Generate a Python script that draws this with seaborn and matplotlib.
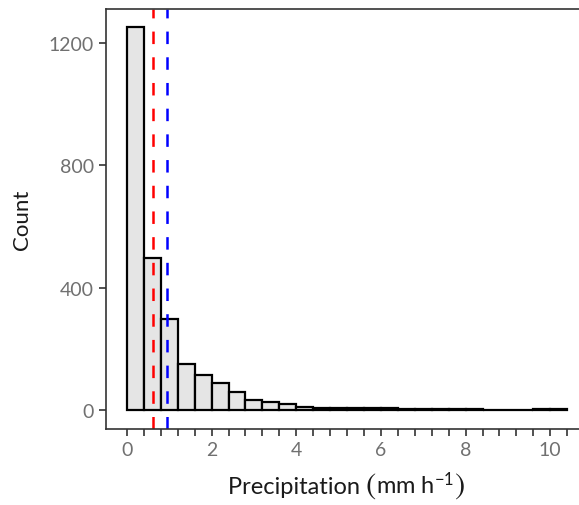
import numpy as np
import pandas as pd
import matplotlib
matplotlib.use("Agg")
import matplotlib.pyplot as plt
from matplotlib.offsetbox import TextArea, HPacker, AnchoredOffsetbox
import seaborn as sb

# histogram counts per 0.4 mm/h bin, starting at 0
bin_width = 0.4
counts = [1251, 497, 296, 150, 115, 88, 58, 34, 25, 20,
          9, 6, 8, 8, 7, 7, 4, 2, 5, 5,
          5, 1, 1, 1, 4, 4]
# reference lines
median_val = 0.62
mean_val = 0.95

y_ticks = [0, 400, 800, 1200]
x_labels = [0, 2, 4, 6, 8, 10]

sb.set_style("white")
plt.rcParams['font.family'] = ['Lato', 'DejaVu Sans']
plt.rcParams['mathtext.fontset'] = 'custom'
plt.rcParams['mathtext.rm'] = 'Lato'
plt.rcParams['mathtext.it'] = 'Lato:italic'
plt.rcParams['lines.scale_dashes'] = False

# build bin edges / centres from the bin width
edges = np.arange(len(counts) + 1) * bin_width
df = pd.DataFrame({"precip": edges[:-1] + bin_width / 2, "n": counts})

fig = plt.figure(figsize=(5.79, 5.06), dpi=100)
ax = fig.add_axes([106 / 579, 1 - 430 / 506, 1 - 106 / 579, 420 / 506])

sb.histplot(data=df, x="precip", weights="n", bins=list(edges), color="#e5e5e5", alpha=1,
            edgecolor="black", linewidth=1.6, ax=ax)

ax.axvline(median_val, color="red", linewidth=1.8, dashes=(9, 9.5))
ax.axvline(mean_val, color="blue", linewidth=1.8, dashes=(9, 9.5))

ax.set_xlim(-0.496, 10.68)
ax.set_ylim(-62, 1311)

ax.set_yticks(y_ticks)
ax.set_xticks(edges)
ax.set_xticklabels([str(int(round(e))) if any(abs(e - v) < 1e-6 for v in x_labels) else "" for e in edges])

ax.tick_params(axis="both", which="major", length=5, width=1.2, color="#333333",
               labelsize=14, labelcolor="#707070", direction="out", bottom=True, left=True)
ax.set_ylabel("Count", fontsize=16, color="#1a1a1a", labelpad=12)
ax.set_xlabel("")

# x label with tall parentheses, packed piece by piece on a common baseline
tp = dict(size=17, color="#1a1a1a")
pp = dict(size=22, color="#1a1a1a", family="STIXGeneral")
label_box = HPacker(children=[TextArea("Precipitation ", textprops=tp),
                              TextArea("(", textprops=pp),
                              TextArea(r"mm h$^{-1}$", textprops=tp),
                              TextArea(")", textprops=pp)],
                    align="baseline", pad=0, sep=0)
anchored = AnchoredOffsetbox(loc="upper center", child=label_box, pad=0, borderpad=0,
                             bbox_to_anchor=(0.508, -0.098), bbox_transform=ax.transAxes,
                             frameon=False)
ax.add_artist(anchored)

for side in ["left", "bottom", "top"]:
    ax.spines[side].set_color("#333333")
    ax.spines[side].set_linewidth(1.2)
ax.spines["right"].set_visible(False)

plt.savefig("out.png", dpi=100)
